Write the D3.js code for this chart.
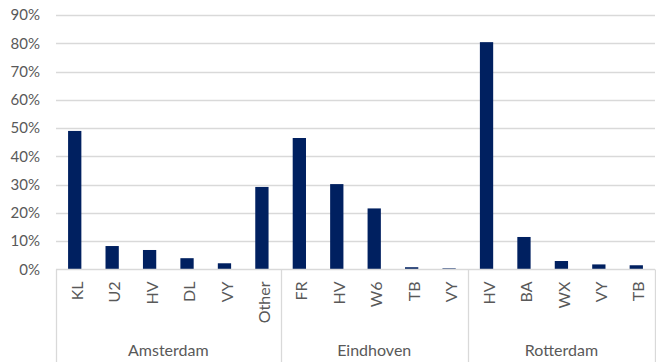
<!DOCTYPE html>
<html><head><meta charset="utf-8">
<script src="https://cdn.jsdelivr.net/npm/d3@7"></script>
<style>body{margin:0;background:#fff}svg{display:block}text{font-family:Lato,"Open Sans",sans-serif;fill:#595959}</style>
</head><body><svg id="c" width="656" height="362"></svg>
<script>
const groups = ["Amsterdam","Eindhoven","Rotterdam"];
const categories = ["KL","U2","HV","DL","VY","Other","FR","HV","W6","TB","VY","HV","BA","WX","VY","TB"];
const categoryGroup = [0,0,0,0,0,0,1,1,1,1,1,2,2,2,2,2];
const values = [0.49,0.083,0.069,0.040,0.022,0.292,0.465,0.302,0.216,0.008,0.004,0.804,0.115,0.030,0.018,0.015];
const yTicks = [0,0.1,0.2,0.3,0.4,0.5,0.6,0.7,0.8,0.9];

const svg = d3.select("#c");
const L = 56, R = 655, T = 15, B = 269.5;
const x = d3.scaleBand().domain(d3.range(categories.length)).range([L,R]).paddingInner(0.645).paddingOuter(0.3225);
const y = d3.scaleLinear().domain([0,0.9]).range([B,T]);

// gridlines
svg.append("g").selectAll("line").data(yTicks.slice(1)).join("line")
  .attr("x1",L).attr("x2",R).attr("y1",d=>Math.round(y(d))+0.5).attr("y2",d=>Math.round(y(d))+0.5)
  .attr("stroke","#d9d9d9").attr("stroke-width",1.3);

// y labels
svg.append("g").selectAll("text").data(yTicks).join("text")
  .attr("x",40).attr("y",d=>y(d)).attr("dy","0.35em").attr("text-anchor","end")
  .style("font-size","15px").text(d=>d3.format(".0%")(d));

// bars
svg.append("g").selectAll("rect").data(values).join("rect")
  .attr("x",(d,i)=>x(i)).attr("width",x.bandwidth())
  .attr("y",d=>y(d)).attr("height",d=>B-y(d)).attr("fill","#002060");

// axis line
svg.append("line").attr("x1",L).attr("x2",R).attr("y1",B).attr("y2",B).attr("stroke","#d9d9d9").attr("stroke-width",1.3);

// group separators
const step = x.step();
const bounds = [0];
for (let i=1;i<categoryGroup.length;i++) if (categoryGroup[i]!==categoryGroup[i-1]) bounds.push(i);
bounds.push(categories.length);
svg.append("g").selectAll("line").data(bounds).join("line")
  .attr("x1",d=>Math.round(L+d*step)+0.5).attr("x2",d=>Math.round(L+d*step)+0.5)
  .attr("y1",B).attr("y2",362).attr("stroke","#d9d9d9").attr("stroke-width",1.3);

// category labels
svg.append("g").selectAll("text").data(categories).join("text")
  .attr("transform",(d,i)=>`translate(${x(i)+x.bandwidth()/2+2.5},${B+12}) rotate(-90)`)
  .attr("text-anchor","end").attr("dy","0.35em").style("font-size","16px").text(d=>d);

// group labels
svg.append("g").selectAll("text").data(groups).join("text")
  .attr("x",(d,g)=>L+(bounds[g]+bounds[g+1])/2*step).attr("y",356)
  .attr("text-anchor","middle").style("font-size","16px").text(d=>d);
</script></body></html>
